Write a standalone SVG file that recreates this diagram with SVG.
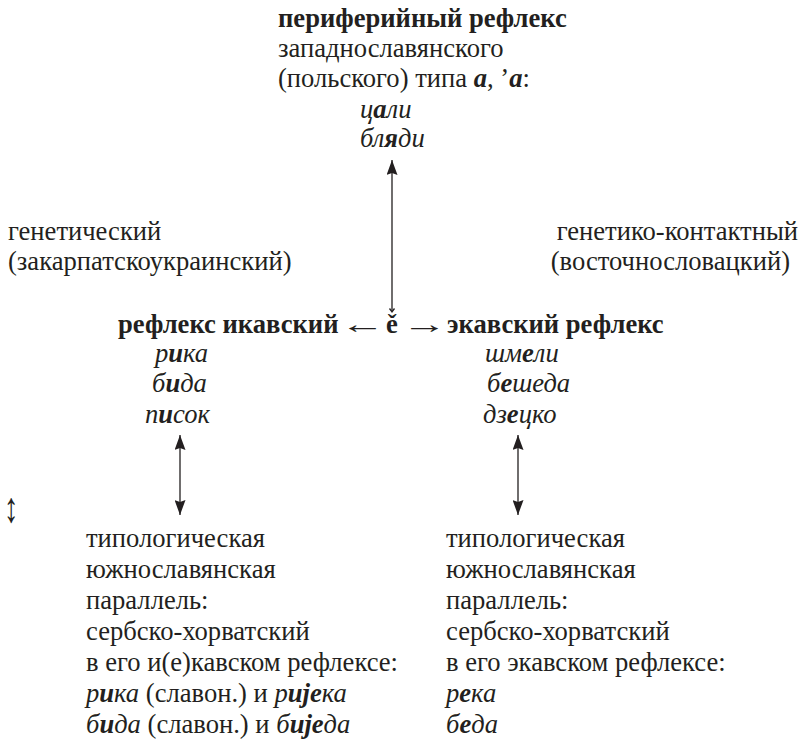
<svg xmlns="http://www.w3.org/2000/svg" width="802" height="745" viewBox="0 0 802 745">
<style>
.t{font-size:26.6px;fill:#231f20}
.b{font-weight:bold}
.i{font-style:italic}
.bi{font-weight:bold;font-style:italic}
.ln{stroke:#231f20;stroke-width:1.3;fill:none}
</style>
<defs>
<marker id="ah2" viewBox="0 0 15 11" refX="15" refY="5.5" markerWidth="15" markerHeight="11" markerUnits="userSpaceOnUse" orient="auto-start-reverse">
<path d="M0,0 L15,5.5 L0,11 L2,5.5 Z" fill="#231f20"/>
</marker>
</defs>
<rect width="802" height="745" fill="#fff"/>
<g class="t" font-family="Liberation Serif, Times New Roman, serif">
<g id="top">
<text x="278" y="27" class="b">периферийный рефлекс</text>
<text x="278" y="57">западнославянского</text>
<text x="278" y="87">(польского) типа <tspan class="bi">а</tspan>, ’<tspan class="bi">а</tspan>:</text>
<text x="360" y="118" class="i">ц<tspan class="bi">а</tspan>ли</text>
<text x="360" y="147" class="i">бл<tspan class="bi">я</tspan>ди</text>
</g>
<g id="genetic-left">
<text x="8" y="240">генетический</text>
<text x="8" y="270">(закарпатскоукраинский)</text>
</g>
<g id="genetic-right">
<text x="798" y="240" text-anchor="end">генетико-контактный</text>
<text x="790" y="270" text-anchor="end">(восточнословацкий)</text>
</g>
<g id="center">
<text x="118" y="333" class="b">рефлекс икавский</text>
<text x="0" y="0" transform="translate(340,333) scale(1.7,1)">←</text>
<text x="386" y="333" class="b">ě</text>
<text x="0" y="0" transform="translate(402,333) scale(1.7,1)">→</text>
<text x="447" y="333" class="b">экавский рефлекс</text>
</g>
<g id="ikav">
<text x="155" y="362" class="i">р<tspan class="bi">и</tspan>ка</text>
<text x="152" y="392" class="i">б<tspan class="bi">и</tspan>да</text>
<text x="145" y="423" class="i">п<tspan class="bi">и</tspan>сок</text>
</g>
<g id="ekav">
<text x="485" y="362" class="i">шм<tspan class="bi">е</tspan>ли</text>
<text x="487" y="392" class="i">б<tspan class="bi">е</tspan>шеда</text>
<text x="483" y="423" class="i">дз<tspan class="bi">е</tspan>цко</text>
</g>
<g id="bottom-left">
<text x="86" y="547">типологическая</text>
<text x="86" y="578">южнославянская</text>
<text x="86" y="609">параллель:</text>
<text x="86" y="640">сербско-хорватский</text>
<text x="86" y="671">в его и(е)кавском рефлексе:</text>
<text x="86" y="702"><tspan class="i">р</tspan><tspan class="bi">и</tspan><tspan class="i">ка</tspan> (славон.) и <tspan class="i">р</tspan><tspan class="bi">ије</tspan><tspan class="i">ка</tspan></text>
<text x="86" y="733"><tspan class="i">б</tspan><tspan class="bi">и</tspan><tspan class="i">да</tspan> (славон.) и <tspan class="i">б</tspan><tspan class="bi">ије</tspan><tspan class="i">да</tspan></text>
</g>
<g id="bottom-right">
<text x="446" y="547">типологическая</text>
<text x="446" y="578">южнославянская</text>
<text x="446" y="609">параллель:</text>
<text x="446" y="640">сербско-хорватский</text>
<text x="446" y="671">в его экавском рефлексе:</text>
<text x="446" y="702" class="i">р<tspan class="bi">е</tspan>ка</text>
<text x="446" y="733" class="i">б<tspan class="bi">е</tspan>да</text>
</g>
<g id="symbol">
<text x="0" y="0" text-anchor="middle" transform="translate(11,522) scale(1.1,1.6)">↕</text>
</g>
</g>
<g id="connectors">
<line class="ln" x1="392" y1="311" x2="392" y2="160" marker-end="url(#ah2)"/>
<polyline class="ln" points="389.5,308.5 392,312 394.5,308.5"/>
<line class="ln" x1="180" y1="435" x2="180" y2="515" marker-start="url(#ah2)" marker-end="url(#ah2)"/>
<line class="ln" x1="518" y1="435" x2="518" y2="515" marker-start="url(#ah2)" marker-end="url(#ah2)"/>
</g>
</svg>
